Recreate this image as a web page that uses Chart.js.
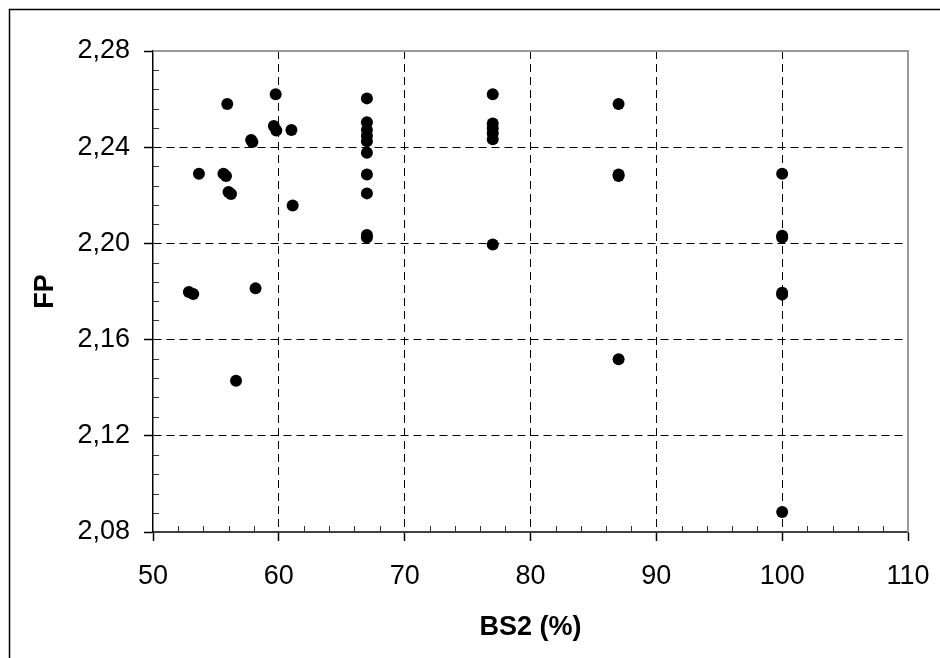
<!DOCTYPE html>
<html>
<head>
<meta charset="utf-8">
<script src="https://cdn.jsdelivr.net/npm/chart.js@4"></script>
<style>
    body { margin: 0; background: #fff; }
    canvas { display: block; }
</style>
</head>
<body>
<canvas id="scatter" width="940" height="658"></canvas>
<script>
// BS2 (%) values
const bs2 = [
    52.85, 53.2, 53.65, 55.6, 55.8, 55.9, 56.0, 56.2, 56.6, 57.8, 57.9, 58.15,
    59.6, 59.75, 59.8, 61.0, 61.1,
    67, 67, 67, 67, 67, 67, 67, 67, 67, 67,
    77, 77, 77, 77, 77, 77,
    87, 87, 87, 87,
    100, 100, 100, 100, 100, 100
]
// FP values, same order
const fp = [
    2.1798, 2.179, 2.229, 2.229, 2.228, 2.258, 2.2214, 2.2205, 2.1429, 2.243, 2.2422, 2.1813,
    2.2488, 2.262, 2.2469, 2.2472, 2.2158,
    2.2603, 2.2504, 2.2472, 2.2448, 2.2425, 2.2377, 2.2286, 2.2208, 2.2035, 2.2025,
    2.262, 2.2499, 2.2479, 2.2458, 2.2433, 2.1995,
    2.258, 2.2287, 2.228, 2.1518,
    2.229, 2.2032, 2.2025, 2.1795, 2.1787, 2.0883
]

const xMin = 50, xMax = 110, xStep = 10, xMinor = 2
const yMin = 2.08, yMax = 2.28, yStep = 0.04, yMinor = 0.008

const fontFamily = "'Liberation Sans', Arial, sans-serif"

// hide the grid line on the first and last tick (they are the frame)
const gridColor = (c) => {
    const last = c.scale.ticks.length - 1
    return (c.index === 0 || c.index === last) ? 'rgba(0,0,0,0)' : '#000'
}

const framePlugin = {
    id: 'frame',
    beforeDraw(chart) {
        const ctx = chart.ctx
        ctx.save()
        ctx.strokeStyle = '#000'
        ctx.lineWidth = 1.5
        ctx.beginPath()
        ctx.moveTo(9.5, chart.height + 5)
        ctx.lineTo(9.5, 9.5)
        ctx.lineTo(chart.width + 5, 9.5)
        ctx.stroke()
        ctx.restore()
    },
    afterDraw(chart) {
        const ctx = chart.ctx
        const a = chart.chartArea
        const x = chart.scales.x
        const y = chart.scales.y
        ctx.save()
        // grey top and right edge of the plot area
        ctx.strokeStyle = '#999'
        ctx.lineWidth = 2
        ctx.beginPath()
        ctx.moveTo(a.left, a.top)
        ctx.lineTo(a.right, a.top)
        ctx.lineTo(a.right, a.bottom)
        ctx.stroke()
        // minor ticks, drawn inside
        ctx.strokeStyle = '#333'
        ctx.lineWidth = 1
        ctx.beginPath()
        const nx = Math.round((xMax - xMin) / xMinor)
        for (let i = 1; i < nx; i++) {
            if (i % 5 === 0) continue
            const px = Math.round(x.getPixelForValue(xMin + i * xMinor)) + 0.5
            ctx.moveTo(px, a.bottom)
            ctx.lineTo(px, a.bottom - 6)
        }
        const ny = Math.round((yMax - yMin) / yMinor)
        for (let i = 1; i < ny; i++) {
            if (i % 5 === 0) continue
            const py = Math.round(y.getPixelForValue(yMin + i * yMinor)) + 0.5
            ctx.moveTo(a.left, py)
            ctx.lineTo(a.left + 6, py)
        }
        ctx.stroke()
        ctx.restore()
    }
}

const points = bs2.map((v, i) => ({ x: v, y: fp[i] }))

const config = {
    type: 'scatter',
    data: {
        datasets: [{
            label: 'FP',
            data: points,
            backgroundColor: '#000',
            borderColor: '#000',
            borderWidth: 0,
            pointRadius: 6,
            pointHoverRadius: 6,
        }]
    },
    options: {
        responsive: false,
        animation: false,
        layout: {
            padding: { left: 0, top: 51, right: 32, bottom: 0 }
        },
        plugins: {
            legend: { display: false },
            tooltip: { enabled: false },
        },
        scales: {
            x: {
                type: 'linear',
                min: xMin,
                max: xMax,
                afterFit: (scale) => {
                    scale.height = 126
                    scale.paddingLeft = 0
                    scale.paddingRight = 0
                },
                ticks: {
                    stepSize: xStep,
                    color: '#000',
                    padding: 19,
                    maxRotation: 0,
                    font: { family: fontFamily, size: 27 },
                },
                grid: {
                    color: gridColor,
                    lineWidth: 1,
                    tickColor: '#000',
                    tickLength: 9,
                    tickWidth: 1.5,
                    tickBorderDash: [],
                },
                border: { color: '#404040', width: 2, dash: [8, 5] },
                title: {
                    display: true,
                    text: 'BS2 (%)',
                    color: '#000',
                    font: { family: fontFamily, size: 27, weight: 'bold' },
                    padding: { top: 0, bottom: 14 },
                },
            },
            y: {
                type: 'linear',
                min: yMin,
                max: yMax,
                afterFit: (scale) => {
                    scale.width = 153
                    scale.paddingTop = 0
                    scale.paddingBottom = 0
                },
                ticks: {
                    stepSize: yStep,
                    color: '#000',
                    padding: 14,
                    font: { family: fontFamily, size: 27 },
                    callback: (value) => value.toFixed(2).replace('.', ','),
                },
                grid: {
                    color: gridColor,
                    lineWidth: 1,
                    tickColor: '#000',
                    tickLength: 9,
                    tickWidth: 1.5,
                    tickBorderDash: [],
                },
                border: { color: '#000', width: 1.5, dash: [8, 5] },
                title: {
                    display: true,
                    text: 'FP',
                    color: '#000',
                    font: { family: fontFamily, size: 27, weight: 'bold' },
                    padding: { top: 29, bottom: 0 },
                },
            },
        },
    },
    plugins: [framePlugin],
}

const scatterDoc = document.getElementById('scatter')
const scatterChart = new Chart(scatterDoc, config)
</script>
</body>
</html>
